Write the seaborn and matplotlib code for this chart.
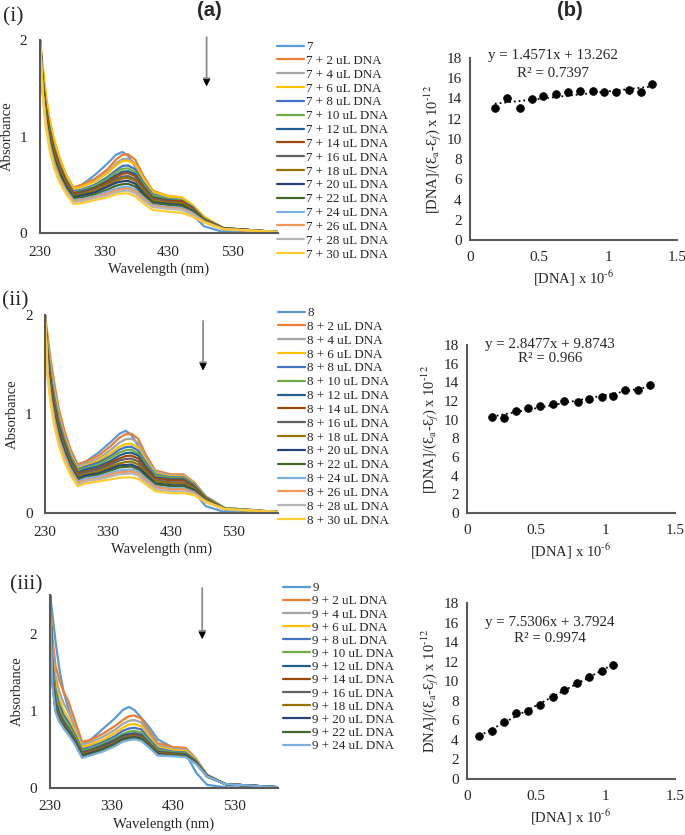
import numpy as np
import pandas as pd
import matplotlib
matplotlib.use("Agg")
import matplotlib.pyplot as plt
import seaborn as sns

sns.set_style("white")
plt.rcParams['font.family'] = ['Liberation Serif', 'DejaVu Serif']
plt.rcParams['mathtext.fontset'] = 'stix'

W, H = 685, 835

# ---- UV-vis titration spectra (absorbance) ----
wavelength = [230, 234, 239, 245, 252, 260, 270, 282, 295, 315, 335, 348,
              358, 367, 378, 390, 405, 430, 450, 467, 485, 515, 600]

spec7 = [
    [2.00, 1.62, 1.32, 1.10, 0.90, 0.74, 0.58, 0.47, 0.50, 0.60, 0.72, 0.81, 0.84, 0.80, 0.69, 0.52, 0.41, 0.37, 0.33, 0.19, 0.07, 0.01, 0.00],
    [2.00, 1.70, 1.40, 1.15, 0.95, 0.78, 0.61, 0.47, 0.50, 0.56, 0.66, 0.76, 0.81, 0.815, 0.76, 0.60, 0.44, 0.38, 0.37, 0.29, 0.16, 0.05, 0.01],
    [2.00, 1.67, 1.37, 1.12, 0.92, 0.75, 0.59, 0.45, 0.48, 0.54, 0.63, 0.72, 0.765, 0.77, 0.72, 0.57, 0.42, 0.37, 0.36, 0.28, 0.16, 0.05, 0.01],
    [2.00, 1.75, 1.45, 1.18, 0.97, 0.79, 0.61, 0.46, 0.48, 0.53, 0.62, 0.70, 0.745, 0.75, 0.71, 0.57, 0.43, 0.38, 0.37, 0.29, 0.17, 0.05, 0.01],
    [2.00, 1.62, 1.32, 1.08, 0.88, 0.72, 0.56, 0.43, 0.45, 0.50, 0.58, 0.65, 0.695, 0.70, 0.66, 0.53, 0.40, 0.35, 0.34, 0.27, 0.15, 0.05, 0.01],
    [2.00, 1.60, 1.30, 1.06, 0.86, 0.70, 0.55, 0.42, 0.44, 0.49, 0.56, 0.63, 0.665, 0.67, 0.63, 0.51, 0.39, 0.35, 0.34, 0.26, 0.15, 0.05, 0.01],
    [2.00, 1.58, 1.28, 1.04, 0.85, 0.69, 0.54, 0.41, 0.43, 0.47, 0.54, 0.60, 0.635, 0.64, 0.61, 0.49, 0.37, 0.34, 0.33, 0.26, 0.14, 0.05, 0.01],
    [2.00, 1.60, 1.30, 1.06, 0.86, 0.70, 0.54, 0.41, 0.42, 0.46, 0.53, 0.58, 0.615, 0.62, 0.59, 0.48, 0.36, 0.33, 0.33, 0.25, 0.14, 0.05, 0.01],
    [2.00, 1.55, 1.25, 1.01, 0.82, 0.66, 0.51, 0.39, 0.41, 0.45, 0.51, 0.56, 0.585, 0.59, 0.56, 0.46, 0.35, 0.32, 0.31, 0.24, 0.14, 0.04, 0.01],
    [2.00, 1.56, 1.25, 1.01, 0.82, 0.66, 0.51, 0.38, 0.40, 0.44, 0.50, 0.54, 0.565, 0.57, 0.54, 0.44, 0.34, 0.31, 0.31, 0.24, 0.14, 0.04, 0.01],
    [2.00, 1.52, 1.21, 0.97, 0.78, 0.63, 0.49, 0.37, 0.39, 0.42, 0.48, 0.52, 0.535, 0.54, 0.51, 0.42, 0.32, 0.30, 0.29, 0.23, 0.13, 0.04, 0.01],
    [2.00, 1.50, 1.19, 0.95, 0.76, 0.61, 0.47, 0.36, 0.37, 0.40, 0.45, 0.49, 0.505, 0.51, 0.48, 0.40, 0.31, 0.29, 0.28, 0.22, 0.13, 0.04, 0.01],
    [2.00, 1.48, 1.16, 0.92, 0.73, 0.58, 0.45, 0.34, 0.35, 0.38, 0.43, 0.46, 0.475, 0.48, 0.45, 0.37, 0.29, 0.27, 0.26, 0.21, 0.12, 0.04, 0.01],
    [2.00, 1.47, 1.14, 0.90, 0.71, 0.57, 0.44, 0.33, 0.34, 0.37, 0.41, 0.44, 0.455, 0.46, 0.43, 0.36, 0.28, 0.26, 0.25, 0.20, 0.12, 0.04, 0.01],
    [2.00, 1.46, 1.12, 0.88, 0.69, 0.55, 0.43, 0.32, 0.33, 0.36, 0.39, 0.42, 0.435, 0.44, 0.41, 0.34, 0.27, 0.25, 0.24, 0.19, 0.11, 0.04, 0.01],
    [2.00, 1.45, 1.10, 0.86, 0.67, 0.53, 0.41, 0.30, 0.31, 0.34, 0.37, 0.40, 0.41, 0.41, 0.38, 0.31, 0.24, 0.22, 0.21, 0.17, 0.11, 0.04, 0.01],
]

spec8 = [
    [2.00, 1.65, 1.36, 1.12, 0.92, 0.76, 0.60, 0.49, 0.52, 0.61, 0.72, 0.80, 0.83, 0.79, 0.68, 0.51, 0.41, 0.38, 0.35, 0.21, 0.07, 0.01, 0.00],
    [2.00, 1.80, 1.55, 1.30, 1.05, 0.85, 0.65, 0.49, 0.52, 0.58, 0.68, 0.76, 0.795, 0.80, 0.75, 0.59, 0.43, 0.39, 0.39, 0.31, 0.17, 0.05, 0.01],
    [2.00, 1.74, 1.48, 1.24, 1.00, 0.81, 0.62, 0.47, 0.50, 0.55, 0.64, 0.71, 0.745, 0.75, 0.71, 0.56, 0.42, 0.38, 0.38, 0.30, 0.17, 0.05, 0.01],
    [2.00, 1.70, 1.44, 1.20, 0.97, 0.78, 0.60, 0.45, 0.48, 0.53, 0.61, 0.67, 0.695, 0.70, 0.66, 0.53, 0.40, 0.37, 0.37, 0.30, 0.16, 0.05, 0.01],
    [2.00, 1.66, 1.40, 1.16, 0.94, 0.76, 0.58, 0.44, 0.47, 0.51, 0.58, 0.64, 0.665, 0.67, 0.63, 0.51, 0.39, 0.36, 0.36, 0.29, 0.16, 0.05, 0.01],
    [2.00, 1.63, 1.37, 1.13, 0.92, 0.74, 0.57, 0.43, 0.45, 0.49, 0.56, 0.61, 0.635, 0.64, 0.60, 0.49, 0.38, 0.35, 0.35, 0.28, 0.16, 0.05, 0.01],
    [2.00, 1.60, 1.34, 1.10, 0.89, 0.72, 0.55, 0.41, 0.44, 0.47, 0.53, 0.58, 0.605, 0.61, 0.58, 0.47, 0.36, 0.34, 0.34, 0.27, 0.15, 0.04, 0.01],
    [2.00, 1.58, 1.31, 1.07, 0.87, 0.70, 0.53, 0.40, 0.42, 0.45, 0.51, 0.55, 0.575, 0.58, 0.55, 0.45, 0.35, 0.33, 0.33, 0.26, 0.15, 0.04, 0.01],
    [2.00, 1.55, 1.28, 1.04, 0.84, 0.68, 0.51, 0.38, 0.41, 0.44, 0.49, 0.53, 0.545, 0.55, 0.52, 0.43, 0.33, 0.31, 0.31, 0.25, 0.14, 0.04, 0.01],
    [2.00, 1.53, 1.25, 1.01, 0.82, 0.66, 0.50, 0.37, 0.39, 0.42, 0.47, 0.50, 0.515, 0.52, 0.49, 0.41, 0.32, 0.30, 0.30, 0.24, 0.14, 0.04, 0.01],
    [2.00, 1.50, 1.22, 0.99, 0.80, 0.64, 0.48, 0.35, 0.38, 0.40, 0.45, 0.48, 0.485, 0.49, 0.46, 0.39, 0.30, 0.28, 0.28, 0.23, 0.13, 0.04, 0.01],
    [2.00, 1.48, 1.20, 0.97, 0.78, 0.62, 0.47, 0.34, 0.36, 0.39, 0.43, 0.46, 0.465, 0.47, 0.44, 0.37, 0.29, 0.27, 0.27, 0.22, 0.13, 0.04, 0.01],
    [2.00, 1.45, 1.17, 0.94, 0.75, 0.60, 0.45, 0.32, 0.35, 0.37, 0.41, 0.43, 0.435, 0.44, 0.42, 0.35, 0.27, 0.25, 0.25, 0.21, 0.12, 0.04, 0.01],
    [2.00, 1.43, 1.15, 0.92, 0.73, 0.58, 0.43, 0.31, 0.33, 0.35, 0.39, 0.41, 0.415, 0.42, 0.40, 0.33, 0.26, 0.24, 0.24, 0.20, 0.12, 0.04, 0.01],
    [2.00, 1.41, 1.13, 0.90, 0.71, 0.56, 0.41, 0.29, 0.32, 0.34, 0.37, 0.39, 0.395, 0.40, 0.38, 0.31, 0.24, 0.22, 0.22, 0.19, 0.11, 0.04, 0.01],
    [2.00, 1.38, 1.10, 0.87, 0.68, 0.53, 0.39, 0.27, 0.30, 0.32, 0.34, 0.355, 0.36, 0.36, 0.345, 0.29, 0.22, 0.20, 0.20, 0.18, 0.11, 0.04, 0.01],
]

spec9 = [
    [2.50, 2.25, 1.90, 1.55, 1.25, 1.02, 0.78, 0.56, 0.62, 0.76, 0.90, 1.01, 1.05, 1.01, 0.91, 0.80, 0.63, 0.52, 0.45, 0.20, 0.04, 0.01, 0.00],
    [2.50, 1.95, 1.58, 1.40, 1.25, 1.12, 0.88, 0.60, 0.62, 0.70, 0.80, 0.88, 0.93, 0.94, 0.90, 0.75, 0.58, 0.53, 0.52, 0.38, 0.17, 0.05, 0.01],
    [2.50, 1.80, 1.45, 1.25, 1.10, 0.98, 0.80, 0.56, 0.59, 0.66, 0.75, 0.83, 0.87, 0.88, 0.85, 0.71, 0.55, 0.51, 0.50, 0.37, 0.17, 0.05, 0.01],
    [2.50, 1.70, 1.35, 1.15, 1.01, 0.90, 0.74, 0.53, 0.56, 0.62, 0.71, 0.78, 0.82, 0.83, 0.80, 0.67, 0.53, 0.49, 0.48, 0.36, 0.16, 0.05, 0.01],
    [2.50, 1.62, 1.27, 1.08, 0.95, 0.85, 0.70, 0.50, 0.53, 0.59, 0.67, 0.74, 0.77, 0.78, 0.76, 0.64, 0.51, 0.47, 0.46, 0.35, 0.16, 0.05, 0.01],
    [2.50, 1.55, 1.20, 1.02, 0.90, 0.81, 0.67, 0.48, 0.51, 0.57, 0.64, 0.70, 0.73, 0.74, 0.72, 0.61, 0.49, 0.46, 0.45, 0.34, 0.16, 0.05, 0.01],
    [2.50, 1.48, 1.12, 0.97, 0.86, 0.77, 0.64, 0.46, 0.49, 0.55, 0.62, 0.68, 0.70, 0.71, 0.69, 0.59, 0.47, 0.45, 0.44, 0.34, 0.16, 0.05, 0.01],
    [2.50, 1.44, 1.09, 0.95, 0.84, 0.76, 0.63, 0.45, 0.48, 0.53, 0.60, 0.66, 0.68, 0.69, 0.67, 0.58, 0.46, 0.44, 0.43, 0.33, 0.16, 0.05, 0.01],
    [2.50, 1.41, 1.06, 0.93, 0.83, 0.75, 0.62, 0.44, 0.47, 0.52, 0.59, 0.65, 0.67, 0.68, 0.66, 0.57, 0.45, 0.43, 0.43, 0.33, 0.15, 0.05, 0.01],
    [2.50, 1.39, 1.04, 0.91, 0.81, 0.73, 0.61, 0.43, 0.46, 0.51, 0.58, 0.64, 0.66, 0.67, 0.65, 0.56, 0.45, 0.43, 0.42, 0.33, 0.15, 0.05, 0.01],
    [2.50, 1.37, 1.02, 0.89, 0.80, 0.72, 0.60, 0.42, 0.45, 0.50, 0.57, 0.63, 0.65, 0.66, 0.64, 0.55, 0.44, 0.42, 0.42, 0.32, 0.15, 0.05, 0.01],
    [2.50, 1.35, 1.00, 0.88, 0.79, 0.71, 0.59, 0.41, 0.44, 0.49, 0.56, 0.62, 0.64, 0.65, 0.63, 0.54, 0.43, 0.42, 0.41, 0.32, 0.15, 0.05, 0.01],
    [2.50, 1.32, 0.98, 0.86, 0.77, 0.69, 0.57, 0.39, 0.42, 0.47, 0.54, 0.60, 0.62, 0.63, 0.61, 0.53, 0.42, 0.41, 0.40, 0.31, 0.15, 0.05, 0.01],
]

dna_ul_78 = [2, 4, 6, 8, 10, 12, 14, 16, 18, 20, 22, 24, 26, 28, 30]
dna_ul_9 = [2, 4, 6, 8, 10, 12, 14, 16, 18, 20, 22, 24]

# ---- binding plots ----
conc7 = [0.18, 0.27, 0.36, 0.45, 0.53, 0.62, 0.71, 0.80, 0.89, 0.97, 1.06, 1.15, 1.24, 1.32]
ratio7 = [13.1, 14.0, 13.1, 13.9, 14.2, 14.4, 14.6, 14.7, 14.7, 14.6, 14.6, 14.8, 14.6, 15.4]
conc8 = [0.18, 0.27, 0.35, 0.44, 0.53, 0.62, 0.70, 0.80, 0.88, 0.97, 1.05, 1.14, 1.23, 1.32]
ratio8 = [10.3, 10.2, 10.9, 11.3, 11.5, 11.7, 12.0, 11.9, 12.2, 12.4, 12.5, 13.2, 13.2, 13.7]
conc9 = [0.09, 0.18, 0.27, 0.35, 0.44, 0.53, 0.62, 0.70, 0.79, 0.88, 0.97, 1.05]
ratio9 = [4.4, 4.9, 5.8, 6.8, 7.0, 7.6, 8.4, 9.1, 9.8, 10.4, 11.0, 11.7]

equations = ['y = 1.4571x + 13.262', 'y = 2.8477x + 9.8743', 'y = 7.5306x + 3.7924']
r_squared = ['R² = 0.7397', 'R² = 0.966', 'R² = 0.9974']

excel_colors = ['#5B9BD5', '#ED7D31', '#A5A5A5', '#FFC000', '#4472C4', '#70AD47',
                '#255E91', '#9E480E', '#636363', '#997300', '#264478', '#43682B',
                '#7CAFDD', '#F1975A', '#B7B7B7', '#FFCD33']

AXIS_COL = '#595959'
FS = 10.5
TICK_FS = 11

fig = plt.figure(figsize=(W / 100, H / 100), dpi=100)


def px_axes(left, top, right, bottom):
    return fig.add_axes([left / W, 1 - bottom / H, (right - left) / W, (bottom - top) / H])


def style_axes(ax):
    sns.despine(ax=ax)
    for s in ['left', 'bottom']:
        ax.spines[s].set_color(AXIS_COL)
        ax.spines[s].set_linewidth(1.5)
    ax.tick_params(length=0, labelsize=TICK_FS)


def spectra_panel(ax, curves, labels, ymax, yticks, arrow, leg_xy, spacing):
    rows = []
    for lab, vals in zip(labels, curves):
        for wl, a in zip(wavelength, vals):
            rows.append((lab, wl, a))
    df = pd.DataFrame(rows, columns=['series', 'wl', 'abs'])
    sns.lineplot(data=df, x='wl', y='abs', hue='series', hue_order=labels,
                 palette=excel_colors[:len(labels)], estimator=None, lw=1.6,
                 legend=False, ax=ax)
    handles = list(ax.lines[:len(labels)])
    ax.set_xlim(230, 600)
    ax.set_ylim(0, ymax)
    ax.set_xticks([230, 330, 430, 530])
    ax.set_yticks(yticks)
    ax.set_yticklabels([str(t) for t in yticks])
    style_axes(ax)
    ax.tick_params(axis='x', pad=9)
    ax.tick_params(axis='y', pad=9)
    ax.set_xlabel('Wavelength (nm)', fontsize=FS, labelpad=3)
    ax.set_ylabel('Absorbance', fontsize=FS, labelpad=4)
    # downward arrow: absorbance falls as DNA is added
    x, ytop, ybot = arrow
    ax.annotate('', xy=(x, ybot), xytext=(x, ytop), annotation_clip=False,
                arrowprops=dict(arrowstyle='-|>', color='#8c8c8c', lw=1.3,
                                mutation_scale=11, shrinkA=0, shrinkB=0))
    ax.annotate('', xy=(x, ybot), xytext=(x, ybot + 0.06 * ymax / 2), annotation_clip=False,
                arrowprops=dict(arrowstyle='-|>', color='black', lw=0.5,
                                mutation_scale=11, shrinkA=0, shrinkB=0))
    ax.legend(handles=handles, labels=labels, loc='upper left',
              bbox_to_anchor=(leg_xy[0] / W, 1 - leg_xy[1] / H), bbox_transform=fig.transFigure,
              frameon=False, fontsize=9.4, handlelength=2.1, handletextpad=0.15,
              labelspacing=spacing, borderpad=0, borderaxespad=0)


def binding_panel(ax, conc, ratio, eq, r2, text_y, ylabel):
    sns.regplot(x=conc, y=ratio, scatter=False, ci=None, ax=ax,
                line_kws=dict(color='black', ls=':', lw=1.3))
    sns.scatterplot(x=conc, y=ratio, color='black', s=32, edgecolor='black', ax=ax, zorder=3)
    ax.set_xlim(0, 1.5)
    ax.set_ylim(0, 18)
    ax.set_xticks([0, 0.5, 1, 1.5])
    ax.set_xticklabels(['0', '0.5', '1', '1.5'])
    ax.set_yticks(range(0, 19, 2))
    style_axes(ax)
    ax.tick_params(axis='x', pad=8)
    ax.tick_params(axis='y', pad=6)
    ax.set_xlabel(r'[DNA] x 10$^{\text{-6}}$', fontsize=FS, labelpad=3)
    ax.set_ylabel(ylabel, fontsize=FS, labelpad=2)
    ax.text(0.6, text_y[0], eq, ha='center', va='center', fontsize=FS + 0.3)
    ax.text(0.6, text_y[1], r2, ha='center', va='center', fontsize=FS + 0.3)


labels7 = ['7'] + [f'7 + {v} uL DNA' for v in dna_ul_78]
labels8 = ['8'] + [f'8 + {v} uL DNA' for v in dna_ul_78]
labels9 = ['9'] + [f'9 + {v} uL DNA' for v in dna_ul_9]

ax1 = px_axes(40, 40, 278, 233)
spectra_panel(ax1, spec7, labels7, 2, [0, 1, 2], (489, 2.03, 1.52), (277, 41), 0.13)
ax2 = px_axes(45, 315, 278, 513)
spectra_panel(ax2, spec8, labels8, 2, [0, 1, 2], (481, 1.94, 1.44), (278, 307), 0.13)
ax3 = px_axes(50, 595, 278, 788)
spectra_panel(ax3, spec9, labels9, 2.5, [0, 1, 2], (477, 2.59, 1.93), (283, 582), 0.08)

ylab_full = r'[DNA]/(Ɛ$_\mathrm{a}$-Ɛ$_f$) x 10$^{\text{-12}}$'
ylab_cut = r'DNA]/(Ɛ$_\mathrm{a}$-Ɛ$_f$) x 10$^{\text{-12}}$'
bx1 = px_axes(470, 58, 677, 240)
binding_panel(bx1, conc7, ratio7, equations[0], r_squared[0], (18.2, 16.5), ylab_full)
bx2 = px_axes(467, 345, 675, 513)
binding_panel(bx2, conc8, ratio8, equations[1], r_squared[1], (18.1, 16.6), ylab_full)
bx3 = px_axes(467, 603, 675, 779)
binding_panel(bx3, conc9, ratio9, equations[2], r_squared[2], (16.0, 14.4), ylab_cut)

# panel letters
fig.text(209 / W, 1 - 11 / H, '(a)', ha='center', va='center', fontsize=14.5,
         fontweight='bold', family='Liberation Sans')
fig.text(570 / W, 1 - 11 / H, '(b)', ha='center', va='center', fontsize=14.5,
         fontweight='bold', family='Liberation Sans')
fig.text(3 / W, 1 - 17 / H, '(i)', ha='left', va='center', fontsize=15.5)
fig.text(2 / W, 1 - 301 / H, '(ii)', ha='left', va='center', fontsize=15.5)
fig.text(10 / W, 1 - 585 / H, '(iii)', ha='left', va='center', fontsize=15.5)

fig.savefig('out.png', dpi=100)
